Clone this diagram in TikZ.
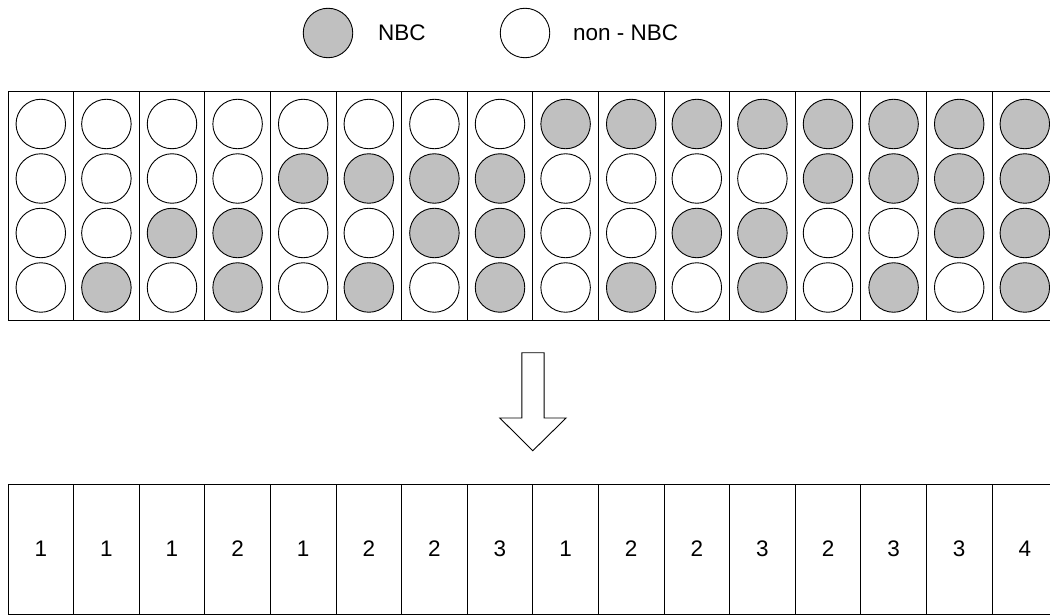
\documentclass[tikz,border=0pt]{standalone}
\usepackage{fontspec}
\setmainfont{Liberation Sans}
\usetikzlibrary{positioning}
\definecolor{nbcgray}{RGB}{192,192,192}

\begin{document}
\begin{tikzpicture}[x=1pt,y=-1pt,line width=0.9pt,
    font=\fontsize{22.5}{26}\selectfont,
    ball0/.style={circle,draw,fill=white,minimum size=49.5pt,inner sep=0pt},
    ball1/.style={ball0,fill=nbcgray},
    slot/.style={draw,minimum width=65.6pt,minimum height=229pt,inner sep=0pt},
    cell/.style={draw,minimum width=65.6pt,minimum height=130pt,inner sep=0pt},
    lbl/.style={inner sep=0pt,anchor=west}]
  \useasboundingbox (0,0) rectangle (1050,615);
  \clip (0,0) rectangle (1050,615);
  % legend
  \node[ball1] (lgnbc) at (328,33) {};
  \node[lbl,right=24.5pt of lgnbc] {NBC};
  \node[ball0] (lgnon) at (525,33) {};
  \node[lbl,right=22.5pt of lgnon] {non - NBC};
  % all 16 combinations, one per slot
  \foreach \k in {0,...,15}{
    \node[slot] (slot\k) at ({8+65.6*(\k+0.5)},205.5) {};
    \foreach \r in {0,...,3}{
      \pgfmathtruncatemacro\bit{mod(floor(\k/pow(2,3-\r)),2)}
      \node[ball\bit] (b\k-\r) at ({8+65.6*(\k+0.5)},{124+54.5*\r}) {};
    }
  }
  % block arrow
  \coordinate (tip) at (532.8,450.7);
  \draw[fill=white] (tip) -- ++(-33,-32.7) -- ++(22,0) -- ++(0,-65.3) -- ++(22.3,0)
    -- ++(0,65.3) -- ++(22,0) -- cycle;
  % counts
  \foreach \k/\n in {0/1,1/1,2/1,3/2,4/1,5/2,6/2,7/3,8/1,9/2,10/2,11/3,12/2,13/3,14/3,15/4}
    \node[cell] (cnt\k) at ({8+65.6*(\k+0.5)},549) {\n};
\end{tikzpicture}
\end{document}
